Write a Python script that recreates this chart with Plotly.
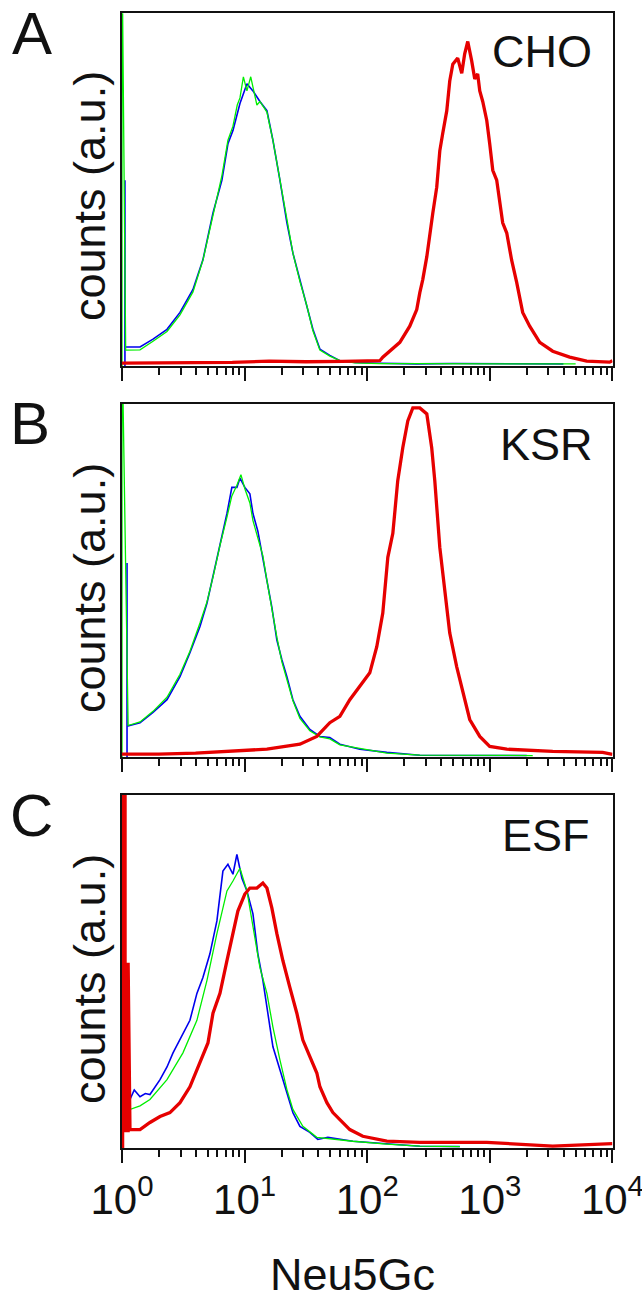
import numpy as np
import plotly.graph_objects as go

W, H = 642, 1294

# ---- data (x in log10 decades of Neu5Gc fluorescence, y in counts a.u.) ----
a_blue_x = [0.024, 0.024, 0.024, 0.147, 0.253, 0.367, 0.473, 0.579, 0.66, 0.742, 0.815, 0.864, 0.905, 0.962, 1.019, 1.068, 1.125, 1.182, 1.231, 1.288, 1.345, 1.394, 1.451, 1.508, 1.557, 1.614, 1.695, 1.777, 1.9, 2.1, 2.4, 2.7, 3.0, 3.3, 3.6]
a_blue_y = [0, 52.7, 5.4, 5.4, 7.6, 10.4, 15.2, 21.7, 30.1, 43.4, 52.7, 63, 66.8, 74.4, 80, 78, 75, 72.4, 64, 52.7, 40.6, 32, 24.5, 17, 10.4, 4.8, 3, 1.5, 1, 0.8, 0.6, 0.7, 0.6, 0.6, 0.6]
a_green_x = [0, 0, 0.03, 0.147, 0.253, 0.367, 0.473, 0.579, 0.66, 0.742, 0.815, 0.864, 0.905, 0.94, 0.962, 0.99, 1.019, 1.05, 1.068, 1.1, 1.125, 1.182, 1.231, 1.288, 1.345, 1.394, 1.451, 1.508, 1.557, 1.614, 1.695, 1.777, 1.9, 2.1, 2.4, 2.7, 3.0, 3.3, 3.7]
a_green_y = [0, 120, 4.5, 4.6, 7.0, 9.8, 14.5, 21, 30, 43, 54, 64, 68, 74, 76, 82, 78, 82, 79, 74, 75, 72, 64, 53, 41, 32, 24, 17, 10, 4.5, 2.8, 1.5, 0.9, 0.7, 0.7, 0.6, 0.6, 0.6, 0.6]
a_red_x = [0.0, 0.3, 0.6, 0.9, 1.2, 1.5, 1.8, 2.103, 2.127, 2.184, 2.266, 2.347, 2.404, 2.429, 2.453, 2.486, 2.51, 2.535, 2.567, 2.592, 2.616, 2.649, 2.673, 2.698, 2.738, 2.771, 2.795, 2.82, 2.852, 2.877, 2.901, 2.918, 2.942, 2.975, 2.999, 3.024, 3.056, 3.081, 3.105, 3.138, 3.178, 3.219, 3.268, 3.325, 3.407, 3.513, 3.651, 3.79, 3.977, 4.0]
a_red_y = [0.8, 0.8, 0.9, 1.0, 1.4, 1.2, 1.3, 1.5, 2.5, 4.2, 6.7, 11.3, 16, 20.8, 24.5, 31, 37.7, 43.4, 50.7, 61, 66, 72.4, 80.8, 85.6, 87.3, 83, 88.5, 92, 86.5, 81.4, 82.8, 78, 75, 69.6, 63, 55.5, 52.7, 47, 40.6, 37.7, 30, 23.7, 15.2, 11.3, 6.7, 4.2, 2.5, 1.4, 1.1, 1.5]

b_blue_x = [0.041, 0.041, 0.041, 0.147, 0.253, 0.367, 0.473, 0.554, 0.636, 0.693, 0.742, 0.799, 0.856, 0.896, 0.937, 0.962, 1.002, 1.043, 1.068, 1.108, 1.149, 1.182, 1.222, 1.263, 1.304, 1.345, 1.394, 1.451, 1.532, 1.614, 1.695, 1.777, 1.94, 2.16, 2.429, 2.8, 3.301]
b_blue_y = [0, 55, 8.8, 9.8, 12.7, 16.3, 22.8, 29.6, 37, 43.6, 51, 60.5, 69, 76.4, 76.4, 79, 76.4, 74.6, 69, 64, 55.8, 50, 42.5, 33.2, 27.6, 22.8, 16.3, 11.6, 7.9, 5.9, 5.6, 3.7, 2.3, 1.4, 0.6, 0.5, 0.5]
b_green_x = [0, 0, 0.05, 0.147, 0.253, 0.367, 0.473, 0.554, 0.636, 0.693, 0.742, 0.799, 0.856, 0.896, 0.937, 0.97, 1.002, 1.043, 1.068, 1.108, 1.149, 1.182, 1.222, 1.263, 1.304, 1.345, 1.394, 1.451, 1.532, 1.614, 1.695, 1.777, 1.94, 2.16, 2.429, 2.8, 3.35]
b_green_y = [0, 120, 9, 10, 13, 17, 23.5, 30, 38, 44, 51, 60, 68, 74, 77, 80, 76, 72, 67, 62, 57, 50, 42, 34, 27, 22, 16, 11, 7.5, 5.8, 5.2, 3.5, 2.5, 1.2, 0.6, 0.5, 0.5]
b_red_x = [0.0, 0.3, 0.6, 0.905, 1.182, 1.451, 1.589, 1.695, 1.777, 1.858, 1.94, 2.021, 2.078, 2.127, 2.168, 2.209, 2.249, 2.29, 2.331, 2.372, 2.429, 2.486, 2.526, 2.551, 2.592, 2.632, 2.673, 2.73, 2.779, 2.836, 2.918, 2.999, 3.138, 3.513, 3.92, 4.0]
b_red_y = [0.9, 0.9, 1.2, 1.7, 2.3, 3.7, 5.9, 9.8, 11.6, 16.3, 20, 23.9, 31.3, 40.8, 56.6, 63.4, 78.3, 87.6, 95.2, 98.9, 98.9, 97.2, 87.6, 78.3, 59.4, 46.5, 35.2, 25.6, 18.3, 10.7, 5.9, 3.1, 2.3, 1.7, 1.4, 0.85]

c_blue_x = [0.05, 0.065, 0.1, 0.147, 0.19, 0.228, 0.31, 0.367, 0.416, 0.497, 0.554, 0.611, 0.66, 0.717, 0.774, 0.823, 0.864, 0.905, 0.937, 0.978, 1.019, 1.068, 1.108, 1.149, 1.19, 1.231, 1.288, 1.345, 1.394, 1.451, 1.532, 1.597, 1.679, 1.883, 2.16, 2.429, 2.755]
c_blue_y = [11, 13.8, 16.5, 14.6, 15.5, 15.2, 19.4, 23, 27, 32.6, 36.2, 43.8, 48.3, 55, 64.3, 78.4, 80.3, 77.5, 83.1, 76.4, 72.8, 66.3, 55, 47.5, 38.2, 28.7, 22.2, 15.7, 10.1, 6.2, 4.5, 2.5, 3.1, 2, 1.2, 0.6, 0.5]
c_green_x = [0.05, 0.065, 0.147, 0.228, 0.367, 0.497, 0.611, 0.693, 0.774, 0.856, 0.905, 0.962, 1.019, 1.068, 1.125, 1.182, 1.231, 1.288, 1.345, 1.394, 1.475, 1.589, 1.883, 2.16, 2.429, 2.755]
c_green_y = [9, 11, 12, 13.8, 19.4, 27, 36.2, 47.5, 60.7, 72.8, 75.6, 79.2, 72.8, 62.4, 51.1, 43.8, 34.3, 25, 16.6, 11, 6.2, 3.1, 2, 1.2, 0.6, 0.5]
c_red_x = [0.005, 0.005, 0.025, 0.025, 0.05, 0.05, 0.065, 0.147, 0.228, 0.31, 0.391, 0.473, 0.554, 0.636, 0.701, 0.742, 0.799, 0.856, 0.905, 0.945, 1.002, 1.043, 1.1, 1.149, 1.182, 1.222, 1.263, 1.312, 1.369, 1.426, 1.475, 1.532, 1.589, 1.614, 1.671, 1.72, 1.777, 1.858, 1.964, 2.16, 2.429, 2.975, 3.513, 3.977, 4.0]
c_red_y = [0, 120, 120, 5, 5, 52.5, 5.3, 5.3, 7.3, 9, 10.1, 12.9, 17.4, 24.2, 29.8, 38.2, 43.8, 53.1, 60.7, 67.1, 71.9, 73.6, 73.6, 75, 73.6, 68, 60.7, 53.1, 45.5, 38.2, 30.6, 25.8, 21.3, 17.4, 12.9, 10.1, 8.1, 5.3, 3.4, 2, 1.7, 1.7, 0.6, 1.1, 1.3]

panel_letters = ["A", "B", "C"]
panel_names = ["CHO", "KSR", "ESF"]
tick_vals = [1, 10, 100, 1000, 10000]
tick_text = ["10<sup>0</sup>", "10<sup>1</sup>", "10<sup>2</sup>", "10<sup>3</sup>", "10<sup>4</sup>"]
x_title = "Neu5Gc"
y_title = "counts (a.u.)"

# ---- layout geometry (pixels) ----
FONT = "Liberation Sans, Arial, sans-serif"
RED, BLUE, GREEN = "#e60000", "#0000ee", "#00ee00"
x_px = (122, 612.5)
panels_px = [(13.3, 366), (404, 757.3), (794.7, 1148.3)]  # (top, bottom)

def px_x(p):
    return p / W

def px_y(p):
    return 1 - p / H

fig = go.Figure()

panel_data = [
    (a_blue_x, a_blue_y, a_green_x, a_green_y, a_red_x, a_red_y),
    (b_blue_x, b_blue_y, b_green_x, b_green_y, b_red_x, b_red_y),
    (c_blue_x, c_blue_y, c_green_x, c_green_y, c_red_x, c_red_y),
]

minor_vals = [m * 10 ** d for d in range(4) for m in range(2, 10)]

for i, (bx, by, gx, gy, rx, ry) in enumerate(panel_data):
    xa = "x" if i == 0 else f"x{i+1}"
    ya = "y" if i == 0 else f"y{i+1}"
    for xs, ys, col, lw in [(bx, by, BLUE, 1.6), (gx, gy, GREEN, 1.3), (rx, ry, RED, 3.3)]:
        fig.add_trace(go.Scatter(x=10 ** np.array(xs), y=ys, mode="lines",
                                 line=dict(color=col, width=lw),
                                 xaxis=xa, yaxis=ya, showlegend=False, hoverinfo="skip"))
    top, bot = panels_px[i]
    xkey = "xaxis" if i == 0 else f"xaxis{i+1}"
    ykey = "yaxis" if i == 0 else f"yaxis{i+1}"
    xdict = dict(type="log", range=[0, 4.0005], domain=[px_x(x_px[0]), px_x(x_px[1])],
                 anchor=ya, automargin=False, showline=True, mirror=True,
                 linecolor="#111", linewidth=2, showgrid=False, zeroline=False,
                 ticks="outside", ticklen=13, tickwidth=1.8, tickcolor="#111",
                 tickmode="array", tickvals=tick_vals,
                 showticklabels=(i == 2), ticklabeloverflow="allow",
                 tickfont=dict(family=FONT, size=42, color="#111"),
                 minor=dict(ticks="outside", ticklen=7, tickwidth=1.5, tickcolor="#111",
                            tickmode="array", tickvals=minor_vals, showgrid=False))
    if i == 2:
        xdict["ticktext"] = tick_text
    fig.update_layout({
        xkey: xdict,
        ykey: dict(range=[0, 100], domain=[px_y(bot), px_y(top)], anchor=xa,
                   automargin=False, showline=True, mirror=True, linecolor="#111",
                   linewidth=2, showgrid=False, zeroline=False,
                   showticklabels=False, ticks=""),
    })

ann = []
letter_pos = [(10, 33.5), (8, 424), (8, 816)]
name_pos = [(542, 51.5), (546, 444.5), (546, 836)]
ylab_pos = [(89, 196), (89, 588), (89, 979)]
for i in range(3):
    ann.append(dict(text=panel_letters[i], x=px_x(letter_pos[i][0]), y=px_y(letter_pos[i][1]),
                    xref="paper", yref="paper", xanchor="left", yanchor="middle",
                    showarrow=False, font=dict(family=FONT, size=60, color="#111")))
    ann.append(dict(text=panel_names[i], x=px_x(name_pos[i][0]), y=px_y(name_pos[i][1]),
                    xref="paper", yref="paper", xanchor="center", yanchor="middle",
                    showarrow=False, font=dict(family=FONT, size=45, color="#111")))
    ann.append(dict(text=y_title, x=px_x(ylab_pos[i][0]), y=px_y(ylab_pos[i][1]),
                    xref="paper", yref="paper", xanchor="center", yanchor="middle",
                    textangle=-90, showarrow=False, font=dict(family=FONT, size=45, color="#111")))
ann.append(dict(text=x_title, x=px_x(352.5), y=px_y(1274), xref="paper", yref="paper",
                xanchor="center", yanchor="middle", showarrow=False,
                font=dict(family=FONT, size=45, color="#111")))

fig.update_layout(template="none", width=W, height=H, margin=dict(l=0, r=0, t=0, b=0),
                  paper_bgcolor="white", plot_bgcolor="white", annotations=ann)

fig.write_html("out.html", config={"displayModeBar": False},
               post_script="document.body.style.margin='0';document.body.style.padding='0';document.body.style.overflow='hidden';")
